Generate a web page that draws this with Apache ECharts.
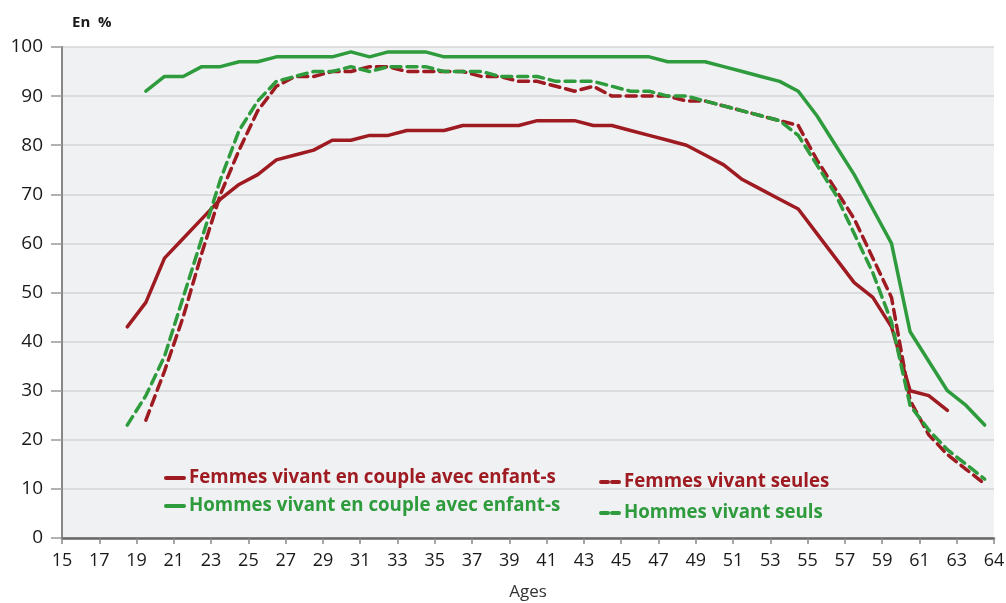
<!DOCTYPE html>
<html>
<head>
<meta charset="utf-8">
<script src="https://cdn.jsdelivr.net/npm/echarts@6/dist/echarts.min.js"></script>
<style>
  html, body { margin: 0; padding: 0; background: #fff; }
  #chart { width: 1006px; height: 603px; }
</style>
</head>
<body>
<div id="chart"></div>
<script>
// ages 18 -> 64
var ages = [18,19,20,21,22,23,24,25,26,27,28,29,30,31,32,33,34,35,36,37,38,39,40,41,
	42,43,44,45,46,47,48,49,50,51,52,53,54,55,56,57,58,59,60,61,62,63,64];

var femmesCouple = [43,48,57,61,65,69,72,74,77,78,79,81,81,82,82,83,83,83,84,84,84,84,85,85,
	85,84,84,83,82,81,80,78,76,73,71,69,67,62,57,52,49,43,30,29,26,null,null];
var hommesCouple = [null,91,94,94,96,96,97,97,98,98,98,98,99,98,99,99,99,98,98,98,98,98,98,98,
	98,98,98,98,98,97,97,97,96,95,94,93,91,86,80,74,67,60,42,36,30,27,23];
var femmesSeules = [null,24,34,45,58,70,79,87,92,94,94,95,95,96,96,95,95,95,95,94,94,93,93,92,
	91,92,90,90,90,90,89,89,88,87,86,85,84,77,71,65,57,49,28,21,17,14,11];
var hommesSeuls = [23,29,37,49,61,73,83,89,93,94,95,95,96,95,96,96,96,95,95,95,94,94,94,93,
	93,93,92,91,91,90,90,89,88,87,86,85,82,76,70,62,54,44,27,22,18,15,12];

// x labels (shown at the start of each year, last one at the end)
var xTickLabels = [15,17,19,21,23,25,27,29,31,33,35,37,39,41,43,45,47,49,51,53,55,57,59,61,63,64];

var ROUGE = '#9e1b22';
var VERT = '#2e9b3d';

function pts(vals) {
	var out = [];
	for (var i = 0; i < ages.length; i++) {
		if (vals[i] != null) out.push([ages[i], vals[i]]);
	}
	return out;
}

// label positions: odd years at their start, 64 at the end of the axis
var tickPos = xTickLabels.map(function (a) { return a === 64 ? 64.5 : a - 0.5; });

var chart = echarts.init(document.getElementById('chart'));

function serie(name, vals, color, dashed) {
	return {
		name: name,
		type: 'line',
		data: pts(vals),
		symbol: 'none',
		smooth: false,
		lineStyle: { color: color, width: 3.5, type: dashed ? [10, 6] : 'solid', cap: 'round' },
		itemStyle: { color: color },
		emphasis: { disabled: true }
	};
}

var legendText = { fontFamily: 'Open Sans', fontWeight: 'bold', fontSize: 18.7, lineHeight: 20 };

chart.setOption({
	animation: false,
	backgroundColor: '#ffffff',
	grid: {
		left: 62, right: 12, top: 47, bottom: 65,
		outerBoundsMode: 'none',
		show: true, backgroundColor: '#f0f1f3', borderWidth: 0
	},
	graphic: [{
		type: 'text',
		left: 72, top: 15,
		style: { text: 'En  %', font: 'bold 15px "Open Sans"', fill: '#1a1a1a' }
	}],
	legend: [{
		orient: 'vertical',
		left: 159, top: 463,
		itemWidth: 18, itemHeight: 14, itemGap: 8,
		itemStyle: { opacity: 0 },
		lineStyle: { width: 4, type: 'inherit' },
		data: [
			{ name: 'Femmes vivant en couple avec enfant-s', textStyle: { color: ROUGE } },
			{ name: 'Hommes vivant en couple avec enfant-s', textStyle: { color: VERT } }
		],
		textStyle: legendText
	}, {
		orient: 'vertical',
		left: 594, top: 467,
		itemWidth: 18, itemHeight: 14, itemGap: 11,
		itemStyle: { opacity: 0 },
		lineStyle: { width: 4, type: [7, 4] },
		data: [
			{ name: 'Femmes vivant seules', textStyle: { color: ROUGE } },
			{ name: 'Hommes vivant seuls', textStyle: { color: VERT } }
		],
		textStyle: legendText
	}],
	xAxis: {
		type: 'value',
		min: 14.5, max: 64.5,
		name: 'Ages',
		nameLocation: 'middle',
		nameGap: 46,
		nameTextStyle: { fontFamily: 'Open Sans', fontSize: 17, color: '#333' },
		axisLine: { show: true, lineStyle: { color: '#666', width: 2.5 } },
		axisTick: { show: true, length: 6, customValues: tickPos, lineStyle: { color: '#888', width: 1.5 } },
		axisLabel: {
			customValues: tickPos,
			margin: 14,
			fontFamily: 'Open Sans', fontSize: 18, color: '#1a1a1a',
			formatter: function (v) { return v >= 64.5 ? '64' : String(Math.round(v + 0.5)); }
		},
		splitLine: { show: false }
	},
	yAxis: {
		type: 'value',
		min: 0, max: 100, interval: 10,
		axisLine: { show: true, lineStyle: { color: '#888', width: 2 } },
		axisTick: { show: true, length: 11, lineStyle: { color: '#999', width: 1.5 } },
		axisLabel: { margin: 19, fontFamily: 'Open Sans', fontSize: 19, color: '#1a1a1a' },
		splitLine: { show: true, lineStyle: { color: '#d4d5d7', width: 1.5 } }
	},
	series: [
		serie('Femmes vivant en couple avec enfant-s', femmesCouple, ROUGE, false),
		serie('Hommes vivant en couple avec enfant-s', hommesCouple, VERT, false),
		serie('Femmes vivant seules', femmesSeules, ROUGE, true),
		serie('Hommes vivant seuls', hommesSeuls, VERT, true)
	]
});
</script>
</body>
</html>
